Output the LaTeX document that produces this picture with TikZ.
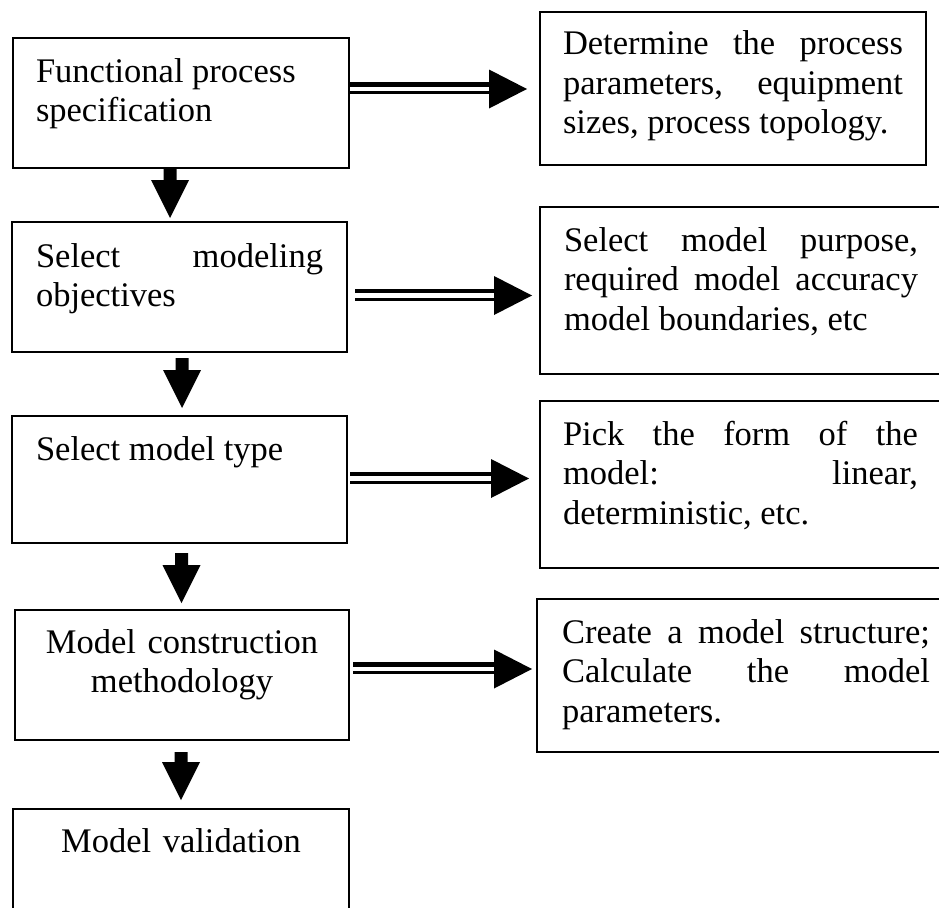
\documentclass[tikz,border=0pt]{standalone}
\usepackage{fontspec}
\setmainfont{Liberation Serif}
\usetikzlibrary{calc}

% Block arrow pointing down: #1 = top of the shaft, #2 = tip (same x)
\newcommand\blockdown[2]{%
  \fill ($(#1)+(-6.5,0)$) -- ($(#1)+(6.5,0)$) -- ($(#2)+(6.5,-38)$)
        -- ($(#2)+(19,-38)$) -- (#2) -- ($(#2)+(-19,-38)$)
        -- ($(#2)+(-6.5,-38)$) -- cycle;}

% Double-line arrow to the right: #1 = start, #2 = tip (same y)
\newcommand\dblarrow[2]{%
  \draw[line width=4.5pt] ($(#1)+(0,-4.5)$) -- ($(#2)+(-30,-4.5)$);
  \draw[line width=3pt] ($(#1)+(0,3.5)$) -- ($(#2)+(-30,3.5)$);
  \fill ($(#2)+(-38,-19.5)$) -- (#2) -- ($(#2)+(-38,19.5)$) -- cycle;}

\begin{document}
\begin{tikzpicture}[x=1pt,y=-1pt,
  box/.style={draw, line width=2pt, anchor=north west, outer sep=0pt,
    inner ysep=0pt, align=justify,
    font=\fontsize{34.5}{39.5}\selectfont},
  cbox/.style={box, align=center}]

\useasboundingbox (0,0) rectangle (939,907);
\fill[white] (0,0) rectangle (939,907);
\clip (0,0) rectangle (939,907);

% left column: the modelling steps
\node[box, text width=290pt, inner xsep=23pt, text height=44pt, text depth=86pt]
  (B1) at (13,38) {Functional process\\specification};
\node[box, text width=287pt, inner xsep=24pt, text height=45pt, text depth=85pt]
  (B2) at (12,222) {Select modeling\linebreak objectives};
\node[box, text width=287pt, inner xsep=24pt, text height=44pt, text depth=83pt]
  (B3) at (12,416) {Select model type};
\node[cbox, text width=290pt, inner xsep=22pt, text height=43pt, text depth=87pt]
  (B4) at (15,610) {Model construction\\methodology};
\node[cbox, text width=292pt, inner xsep=22pt, text height=43pt, text depth=150pt]
  (B5) at (13,809) {Model validation};

% right column: what each step involves
\node[box, text width=340pt, inner xsep=23pt, text height=43pt, text depth=110pt]
  (R1) at (540,12) {Determine the process\linebreak parameters, equipment\linebreak sizes, process topology.};
\node[box, text width=354pt, inner xsep=24pt, text height=44pt, text depth=123pt]
  (R2) at (540,207) {Select model purpose,\linebreak required model accuracy\linebreak model boundaries, etc};
\node[box, text width=355pt, inner xsep=23pt, text height=44pt, text depth=123pt]
  (R3) at (540,401) {Pick the form of the\linebreak model: linear,\linebreak deterministic, etc.};
\node[box, text width=368pt, inner xsep=25pt, text height=44pt, text depth=109pt]
  (R4) at (537,599) {Create a model structure;\linebreak Calculate the model\linebreak parameters.};

% downward flow between the steps
\coordinate (v1s) at ($(B1.south)+(-11,0)$);
\coordinate (v1t) at ($(v1s |- B2.north)+(0,-4)$);
\coordinate (v2s) at ($(B2.south)+(2.5,6)$);
\coordinate (v2t) at ($(v2s |- B3.north)+(0,-8)$);
\coordinate (v3s) at ($(B3.south)+(2,10)$);
\coordinate (v3t) at ($(v3s |- B4.north)+(0,-7)$);
\coordinate (v4s) at ($(B4.south)+(-1,12)$);
\coordinate (v4t) at ($(v4s |- B5.north)+(0,-9)$);
\blockdown{v1s}{v1t}
\blockdown{v2s}{v2t}
\blockdown{v3s}{v3t}
\blockdown{v4s}{v4t}

% links from each step to its details
\coordinate (h1s) at ($(B1.east |- 0,89)+(-1,0)$);
\coordinate (h1t) at ($(R1.west |- h1s)+(-13,0)$);
\coordinate (h2s) at ($(B2.east |- 0,295.5)+(8,0)$);
\coordinate (h2t) at ($(R2.west |- h2s)+(-8,0)$);
\coordinate (h3s) at ($(B3.east |- 0,478.5)+(3,0)$);
\coordinate (h3t) at ($(R3.west |- h3s)+(-11,0)$);
\coordinate (h4s) at ($(B4.east |- 0,669)+(4,0)$);
\coordinate (h4t) at ($(R4.west |- h4s)+(-5,0)$);
\dblarrow{h1s}{h1t}
\dblarrow{h2s}{h2t}
\dblarrow{h3s}{h3t}
\dblarrow{h4s}{h4t}

\end{tikzpicture}
\end{document}
